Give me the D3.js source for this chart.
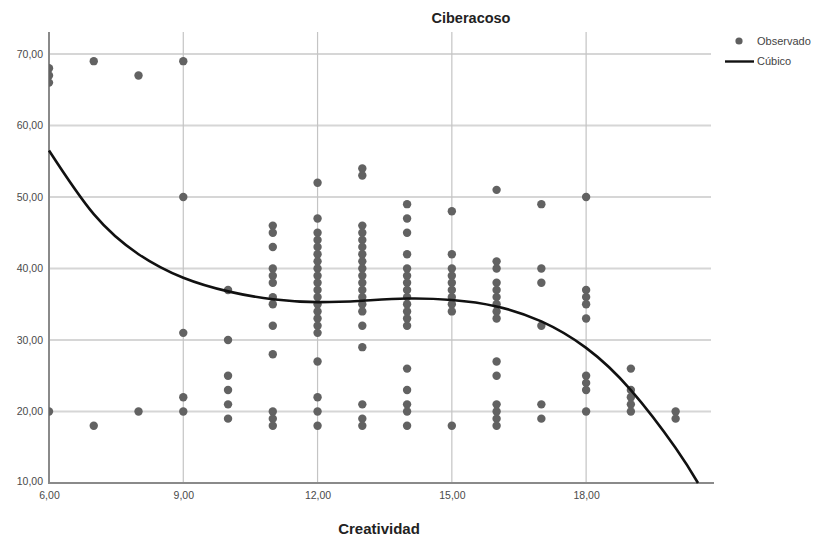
<!DOCTYPE html>
<html>
<head>
<meta charset="utf-8">
<script src="https://cdn.jsdelivr.net/npm/d3@7"></script>
<style>
  body { margin: 0; background: #fff; }
  svg { display: block; font-family: Arial, "Liberation Sans", sans-serif; }
</style>
</head>
<body>
<svg id="chart" width="827" height="541"></svg>
<script>
// ---- data ----
const xTicks = [6, 9, 12, 15, 18];
const yTicks = [10, 20, 30, 40, 50, 60, 70];
// observed values: each entry = [creatividad, list of ciberacoso values]
const obsX = [6, 7, 8, 9, 10, 11, 12, 13, 14, 15, 16, 17, 18, 19, 20];
const obsY = [
  [68, 67, 66, 20],
  [69, 18],
  [67, 20],
  [69, 50, 31, 22, 20],
  [37, 30, 25, 23, 21, 19],
  [46, 45, 43, 40, 39, 38, 36, 35, 32, 28, 20, 19, 18],
  [52, 47, 45, 44, 43, 42, 41, 40, 39, 38, 37, 36, 35, 34, 33, 32, 31, 27, 22, 20, 18],
  [54, 53, 46, 45, 44, 43, 42, 41, 40, 39, 38, 37, 36, 35, 34, 32, 29, 21, 19, 18],
  [49, 47, 45, 42, 40, 39, 38, 37, 36, 35, 34, 33, 32, 26, 23, 21, 20, 18],
  [48, 42, 40, 39, 38, 37, 36, 35, 34, 18],
  [51, 41, 40, 38, 37, 36, 35, 34, 33, 27, 25, 21, 20, 19, 18],
  [49, 40, 38, 32, 21, 19],
  [50, 37, 36, 35, 33, 25, 24, 23, 20],
  [26, 23, 22, 21, 20],
  [20, 19]
];
// cubic fit line
const fitX = [6, 7, 8, 9, 10, 11, 12, 13, 14, 15, 16, 17, 18, 19, 20, 20.5];
const fitY = [56.5, 47.6, 42.0, 38.7, 36.8, 35.7, 35.3, 35.5, 35.8, 35.6, 34.7, 32.6, 28.9, 23.0, 14.9, 10];

const seriesNames = ["Observado", "Cúbico"];
const chartTitle = "Ciberacoso";
const xTitle = "Creatividad";

// ---- layout ----
const svg = d3.select("#chart");
const L = 49, R = 711, T = 32, B = 483;
const x = d3.scaleLinear().domain([6, 20.79]).range([L, R]);
const y = d3.scaleLinear().domain([10, 73.08]).range([B, T]);
const fmt = v => d3.format(".2f")(v).replace(".", ",");

svg.append("defs").append("clipPath").attr("id", "clip")
  .append("rect").attr("x", L).attr("y", T - 10).attr("width", R - L + 10).attr("height", B - T + 10);

// grid
const grid = svg.append("g");
grid.selectAll("line.h").data(yTicks.filter(d => d > 10)).join("line")
  .attr("x1", L).attr("x2", R).attr("y1", d => y(d)).attr("y2", d => y(d))
  .attr("stroke", "#d6d6d6").attr("stroke-width", 2);
grid.selectAll("line.v").data(xTicks.filter(d => d > 6)).join("line")
  .attr("x1", d => x(d)).attr("x2", d => x(d)).attr("y1", T).attr("y2", B)
  .attr("stroke", "#c4c4c4").attr("stroke-width", 1.2);

// axes
const yAxis = d3.axisLeft(y).tickValues(yTicks).tickFormat(fmt).tickSize(0).tickPadding(6);
const gy = svg.append("g").attr("transform", `translate(${L},0)`).call(yAxis);
gy.select(".domain").remove();
gy.selectAll("text").attr("fill", "#4a4a4a").style("font-size", "10.5px");
gy.selectAll(".tick").filter(d => d === 10).select("text").attr("dy", "0.1em");

const xAxis = d3.axisBottom(x).tickValues(xTicks).tickFormat(fmt).tickSize(0).tickPadding(9);
const gx = svg.append("g").attr("transform", `translate(0,${B})`).call(xAxis);
gx.select(".domain").remove();
gx.selectAll("text").attr("fill", "#4a4a4a").style("font-size", "10.5px");

svg.append("line").attr("x1", L).attr("x2", L).attr("y1", T).attr("y2", B + 1)
  .attr("stroke", "#8a8a8a").attr("stroke-width", 2);
svg.append("line").attr("x1", L).attr("x2", R + 3).attr("y1", B).attr("y2", B)
  .attr("stroke", "#8a8a8a").attr("stroke-width", 2);

// points
const pts = [];
obsX.forEach((xv, i) => obsY[i].forEach(yv => pts.push([xv, yv])));
svg.append("g").attr("clip-path", "url(#clip)")
  .selectAll("circle").data(pts).join("circle")
  .attr("cx", d => x(d[0])).attr("cy", d => y(d[1])).attr("r", 4.2)
  .attr("fill", "#626262");

// cubic line
const line = d3.line().x(d => x(d[0])).y(d => y(d[1])).curve(d3.curveNatural);
svg.append("path").datum(fitX.map((v, i) => [v, fitY[i]]))
  .attr("d", line).attr("fill", "none").attr("stroke", "#111").attr("stroke-width", 2.6);

// titles
svg.append("text").attr("x", 471).attr("y", 23).attr("text-anchor", "middle")
  .style("font-size", "14.5px").style("font-weight", "bold").attr("fill", "#222").text(chartTitle);
svg.append("text").attr("x", 379).attr("y", 534).attr("text-anchor", "middle")
  .style("font-size", "15px").style("font-weight", "bold").attr("fill", "#222").text(xTitle);

// legend
const lg = svg.append("g");
lg.append("circle").attr("cx", 739).attr("cy", 41).attr("r", 3.6).attr("fill", "#5f5f5f");
lg.append("text").attr("x", 757).attr("y", 45).style("font-size", "11px").attr("fill", "#444").text(seriesNames[0]);
lg.append("line").attr("x1", 725).attr("x2", 754).attr("y1", 61.5).attr("y2", 61.5)
  .attr("stroke", "#111").attr("stroke-width", 2.4);
lg.append("text").attr("x", 757).attr("y", 65).style("font-size", "11px").attr("fill", "#444").text(seriesNames[1]);
</script>
</body>
</html>
